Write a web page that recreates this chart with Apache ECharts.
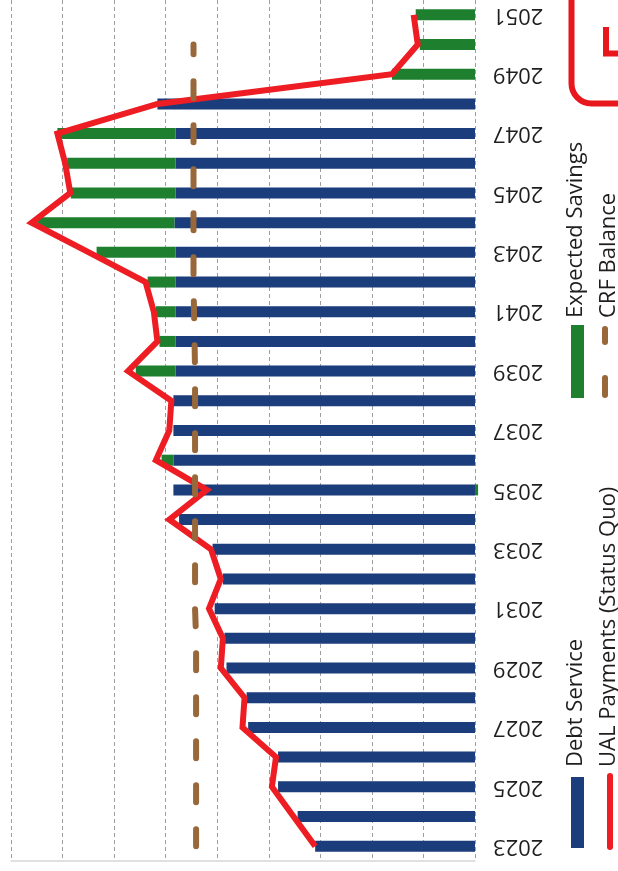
<!DOCTYPE html>
<html>
<head>
<meta charset="utf-8">
<script src="https://cdn.jsdelivr.net/npm/echarts@6/dist/echarts.min.js"></script>
<style>
html,body{margin:0;padding:0;background:#ffffff;}
#chart{width:618px;height:871px;}
</style>
</head>
<body>
<div id="chart"></div>
<script>
// ---- data (units = one gridline step of 10) ----
const years = ['2023','2024','2025','2026','2027','2028','2029','2030','2031','2032',
  '2033','2034','2035','2036','2037','2038','2039','2040','2041','2042',
  '2043','2044','2045','2046','2047','2048','2049','2050','2051'];
const debtService = [31.0, 34.4, 38.2, 38.2, 44.0, 44.3, 48.2, 48.6, 50.5, 48.9,
  50.9, 57.4, 58.5, 58.5, 58.5, 58.5, 58.1, 58.1, 58.1, 58.1,
  58.1, 58.3, 58.1, 58.1, 58.1, 61.6, 0, 0, 0];
const expectedSavings = [0, 0, 0, 0, 0, 0, 0, 0, 0, 0,
  0, 0, -0.6, 2.3, 0, 0, 7.7, 3.1, 3.8, 5.4,
  15.3, 26.6, 20.3, 21.0, 22.9, 0, 16.1, 10.7, 11.5];
const ualPayments = [31.0, 35.2, 39.4, 38.6, 45.1, 44.7, 49.3, 48.9, 51.6, 49.3,
  51.2, 59.3, 52.0, 61.9, 59.3, 58.9, 67.3, 61.6, 62.3, 63.9,
  74.9, 86.0, 78.5, 79.5, 81.0, 61.6, 16.1, 11.1, 11.9];
const crfBalance = [54.1, 54.1, 54.1, 54.1, 54.1, 54.1, 54.1, 54.1, 54.3, 54.3,
  54.3, 54.3, 54.3, 54.3, 54.3, 54.3, 54.3, 54.4, 54.5, 54.6,
  54.6, 54.6, 54.6, 54.6, 54.6, 54.6, 54.6, 54.6, null];
const valueMin = 0, valueMax = 90, valueStep = 10;
const legendNames = ['Debt Service', 'UAL Payments (Status Quo)', 'Expected Savings', 'CRF Balance'];

// ---- styles ----
const NAVY = '#1b3d7b', GREEN = '#1e7f2e', RED = '#ee1d23', BROWN = '#98683b';
const FONT = '"Open Sans", "DejaVu Sans", sans-serif';

const chart = echarts.init(document.getElementById('chart'), null, {renderer: 'canvas'});

const legendText = (txt, x, y) => ({
  type: 'text', x: x, y: y, rotation: Math.PI / 2, z: 100,
  style: {text: txt, font: '22px ' + FONT, fill: '#1e1e1e', align: 'left', verticalAlign: 'middle'}
});

chart.setOption({
  animation: false,
  backgroundColor: '#ffffff',
  grid: {left: 11, right: 143, top: -3, bottom: 10, containLabel: false},
  xAxis: {
    type: 'value', inverse: true, min: valueMin, max: valueMax, interval: valueStep,
    axisLabel: {show: false}, axisTick: {show: false},
    axisLine: {show: true, lineStyle: {color: '#d6d6d6', width: 1.5}},
    splitLine: {show: true, lineStyle: {color: '#9e9e9e', width: 1, type: [4, 3]}}
  },
  yAxis: {
    type: 'category', position: 'right', data: years,
    axisLine: {show: false}, axisTick: {show: false},
    axisLabel: {interval: 1, rotate: 180, margin: 18, fontFamily: FONT, fontSize: 22, color: '#1e1e1e'}
  },
  series: [
    {name: legendNames[0], type: 'bar', stack: 'total', data: debtService, barWidth: 11,
     itemStyle: {color: NAVY}, z: 2},
    {name: legendNames[2], type: 'bar', stack: 'total', data: expectedSavings, barWidth: 11,
     itemStyle: {color: GREEN}, clip: false, z: 2},
    {name: legendNames[1], type: 'line', data: ualPayments, symbol: 'none', z: 4,
     lineStyle: {color: RED, width: 6, join: 'miter', miterLimit: 4}},
    {name: legendNames[3], type: 'line', data: crfBalance, symbol: 'none', z: 5, connectNulls: false,
     lineStyle: {color: BROWN, width: 6, type: [17, 27], cap: 'round'}}
  ],
  graphic: [
    // legend
    {type: 'rect', shape: {x: 571, y: 777, width: 13, height: 71}, style: {fill: NAVY}, z: 100},
    legendText(legendNames[0], 576, 767),
    {type: 'line', shape: {x1: 610, y1: 776, x2: 610, y2: 847}, style: {stroke: RED, lineWidth: 6, lineCap: 'round'}, z: 100},
    legendText(legendNames[1], 609, 767),
    {type: 'rect', shape: {x: 571, y: 325, width: 13, height: 73}, style: {fill: GREEN}, z: 100},
    legendText(legendNames[2], 576, 318),
    {type: 'line', shape: {x1: 605, y1: 329, x2: 605, y2: 342}, style: {stroke: BROWN, lineWidth: 6, lineCap: 'round'}, z: 100},
    {type: 'line', shape: {x1: 605, y1: 378, x2: 605, y2: 395}, style: {stroke: BROWN, lineWidth: 6, lineCap: 'round'}, z: 100},
    legendText(legendNames[3], 609, 318),
    // red badge in the corner
    {type: 'rect', shape: {x: 571.5, y: -50, width: 120, height: 153.5, r: 20},
     style: {fill: 'none', stroke: '#e8161d', lineWidth: 6}, z: 100},
    {type: 'polyline', shape: {points: [[606, 27], [606, 53.5], [630, 53.5]]},
     style: {fill: 'none', stroke: '#e8161d', lineWidth: 6, lineJoin: 'miter'}, z: 100}
  ]
});
</script>
</body>
</html>
